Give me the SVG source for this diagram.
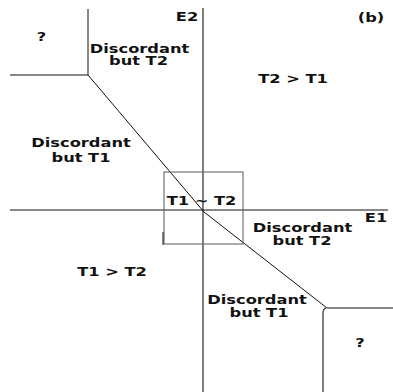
<svg xmlns="http://www.w3.org/2000/svg" width="393" height="392" viewBox="0 0 393 392">
  <style>
    .lbl { font-family: "DejaVu Sans", Verdana, sans-serif; font-weight: bold; font-size: 13px; fill: #111; text-anchor: middle; }
    .axis { stroke: #555; stroke-width: 1.5; fill: none; }
    .edge { stroke: #111; stroke-width: 1; fill: none; }
    .box { stroke: #666; stroke-width: 1.1; fill: none; }
  </style>
  <rect width="393" height="392" fill="#fff"/>

  <!-- axes -->
  <g id="axes">
    <line class="axis" x1="203" y1="8" x2="203" y2="392"/>
    <line class="edge" x1="10" y1="210" x2="388" y2="210" stroke-width="1.2"/>
  </g>

  <!-- region boundaries -->
  <g id="boundaries">
    <polyline class="edge" points="10,75 88,75 88,9"/>
    <polyline class="edge" points="88,75 204,212 327,308 393,308"/>
    <path class="axis" d="M323,392 V313 Q323,309 326,308" stroke-width="1.4"/>
    <rect class="box" x="164" y="172" width="79" height="72"/>
    <line class="edge" x1="163" y1="232" x2="163" y2="245" stroke-width="1.3"/>
  </g>

  <!-- labels (glyphs widened 1.25x) -->
  <g id="labels">
    <text class="lbl" transform="translate(41.5,41) scale(1.25,1)">?</text>
    <text class="lbl" transform="translate(139.5,53) scale(1.25,1)">Discordant</text>
    <text class="lbl" transform="translate(138.5,64.5) scale(1.25,1)">but T2</text>
    <text class="lbl" transform="translate(187,21) scale(1.25,1)">E2</text>
    <text class="lbl" transform="translate(371,22) scale(1.25,1)">(b)</text>
    <text class="lbl" transform="translate(293,83) scale(1.25,1)">T2 &gt; T1</text>
    <text class="lbl" transform="translate(81,147) scale(1.25,1)">Discordant</text>
    <text class="lbl" transform="translate(81,161.5) scale(1.25,1)">but T1</text>
    <text class="lbl" transform="translate(201.5,205) scale(1.25,1)">T1 ~ T2</text>
    <text class="lbl" transform="translate(376,222) scale(1.25,1)">E1</text>
    <text class="lbl" transform="translate(302.5,232) scale(1.25,1)">Discordant</text>
    <text class="lbl" transform="translate(302,245) scale(1.25,1)">but T2</text>
    <text class="lbl" transform="translate(112,276) scale(1.25,1)">T1 &gt; T2</text>
    <text class="lbl" transform="translate(257,304) scale(1.25,1)">Discordant</text>
    <text class="lbl" transform="translate(259,316.5) scale(1.25,1)">but T1</text>
    <text class="lbl" transform="translate(360,347) scale(1.25,1)">?</text>
  </g>
</svg>
